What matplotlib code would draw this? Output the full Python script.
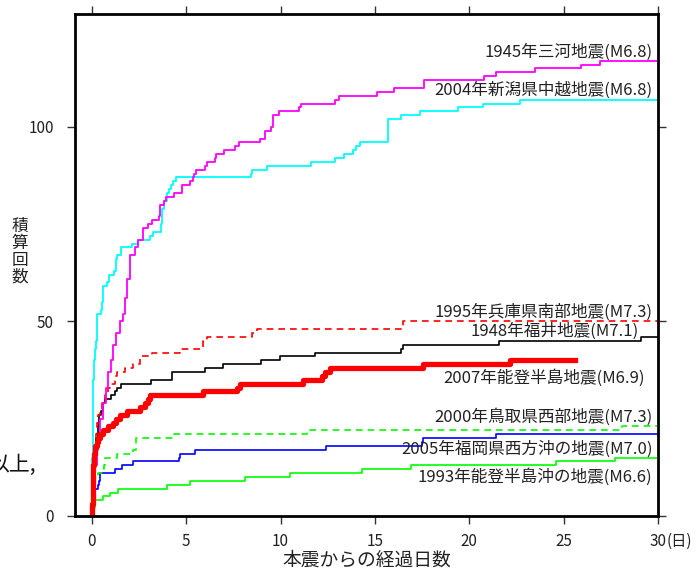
import matplotlib
matplotlib.use("Agg")
import matplotlib.pyplot as plt

plt.rcParams['font.family'] = ['Noto Sans CJK JP', 'DejaVu Sans']

# cumulative counts: (days after mainshock, count reached at that time)
mikawa_t = [0.03, 0.07, 0.12, 0.16, 0.25, 0.33, 0.45, 0.6, 0.75, 0.86, 1.0, 1.13, 1.3, 1.5, 1.66, 1.75,
            1.84, 2.0, 2.28, 2.45, 2.7, 3.0, 3.16, 3.57, 3.6, 3.8, 3.95, 4.35, 4.75, 4.8, 5.2, 5.35,
            5.4, 5.5, 6.0, 6.1, 6.5, 6.6, 7.0, 7.6, 7.8, 8.9, 9.2, 9.5, 9.6, 9.9, 11.0, 11.1, 12.9,
            13.1, 15.1, 16.0, 17.6, 20.8, 21.4, 23.5, 25.9, 26.9]
mikawa_n = [2, 5, 9, 13, 17, 20, 25, 29, 33, 37, 40, 44, 47, 50, 52, 56,
            61, 67, 69, 71, 74, 75, 76, 77, 80, 81, 82, 83, 84, 85, 86, 87,
            88, 89, 90, 91, 92, 93, 94, 95, 96, 97, 99, 100, 103, 104, 105, 106, 107,
            108, 109, 110, 112, 113, 114, 115, 116, 117]

chuetsu_t = [0.01, 0.03, 0.05, 0.07, 0.12, 0.16, 0.21, 0.25, 0.46, 0.51, 0.6, 0.78, 0.92, 1.17, 1.27,
             1.31, 1.52, 2.1, 2.45, 3.07, 3.25, 3.66, 3.7, 3.74, 3.83, 3.96, 4.08, 4.17, 4.3, 4.45,
             8.45, 8.5, 9.3, 11.6, 12.9, 13.35, 13.85, 14.0, 14.2, 15.7, 16.4, 17.4, 19.4, 20.7, 22.7]
chuetsu_n = [5, 15, 25, 35, 40, 43, 45, 52, 53, 55, 59, 60, 62, 63, 66,
             67, 69, 70, 71, 72, 73, 75, 77, 79, 81, 83, 84, 85, 86, 87,
             88, 89, 90, 91, 92, 93, 94, 95, 96, 102, 103, 104, 105, 106, 107]

kobe_t = [0.02, 0.05, 0.1, 0.15, 0.2, 0.25, 0.35, 0.42, 0.55, 0.69, 0.85, 0.95, 1.22, 1.31, 1.75,
          2.19, 2.54, 3.16, 4.66, 5.9, 6.08, 8.46, 8.73, 16.5]
kobe_n = [3, 8, 14, 18, 21, 24, 26, 27, 29, 31, 33, 34, 36, 37, 38,
          39, 41, 42, 43, 45, 46, 47, 48, 50]

fukui_t = [0.03, 0.05, 0.1, 0.15, 0.2, 0.3, 0.4, 0.5, 0.6, 0.7, 1.0, 1.2, 1.35, 1.55, 3.15, 4.25,
           6.0, 6.95, 8.95, 9.95, 11.8, 16.4, 16.5, 21.6, 29.1]
fukui_n = [2, 5, 12, 17, 20, 23, 26, 27, 29, 30, 31, 32, 33, 34, 35, 37,
           38, 39, 40, 41, 42, 43, 44, 45, 46]

noto07_t = [0.02, 0.04, 0.08, 0.12, 0.16, 0.25, 0.33, 0.42, 0.6, 0.86, 1.13, 1.3, 1.48, 1.84, 2.54,
            2.81, 2.98, 3.07, 5.9, 7.67, 7.84, 11.2, 12.2, 12.35, 12.6, 17.55, 22.15]
noto07_n = [3, 8, 13, 16, 18, 19, 20, 21, 22, 23, 24, 25, 26, 27, 28,
            29, 30, 31, 32, 33, 34, 35, 36, 37, 38, 39, 40]
noto07_end = 25.6

tottori_t = [0.02, 0.05, 0.1, 0.16, 0.3, 0.6, 0.65, 0.69, 1.31, 2.19, 2.33, 4.36, 11.4, 28.1]
tottori_n = [3, 6, 8, 10, 11, 12, 13, 15, 16, 17, 20, 21, 22, 23]

fukuoka_t = [0.02, 0.08, 0.12, 0.16, 0.3, 0.38, 0.42, 1.22, 1.57, 2.19, 4.6, 4.66, 5.46, 12.4,
             17.5, 17.56, 21.4]
fukuoka_n = [2, 5, 6, 7, 8, 9, 11, 12, 13, 14, 15, 16, 17, 18, 19, 20, 21]

notooki_t = [0.02, 0.08, 0.16, 0.6, 0.95, 1.4, 3.96, 5.2, 8.1, 10.5, 14.3, 16.9, 24.6, 27.7]
notooki_n = [1, 2, 4, 5, 6, 7, 8, 9, 10, 11, 12, 13, 14, 15]

labels = ['1945年三河地震(M6.8)', '2004年新潟県中越地震(M6.8)', '1995年兵庫県南部地震(M7.3)',
          '1948年福井地震(M7.1)', '2007年能登半島地震(M6.9)', '2000年鳥取県西部地震(M7.3)',
          '2005年福岡県西方沖の地震(M7.0)', '1993年能登半島沖の地震(M6.6)']
label_x = [29.7, 29.7, 29.7, 29.0, 29.3, 29.7, 29.7, 29.7]
label_y = [119.3, 109.5, 52.4, 47.6, 35.5, 25.4, 17.2, 10.0]


def steps(ax, t, n, end, **kw):
    xs = [0] + list(t) + [end]
    ys = [0] + list(n) + [n[-1]]
    ax.step(xs, ys, where='post', **kw)


fig = plt.figure(figsize=(7, 5.72), dpi=100)
ax = fig.add_axes([0.107, 0.098, 0.833, 0.8775])

steps(ax, notooki_t, notooki_n, 30, color='#00ff00', lw=1.2)
steps(ax, fukuoka_t, fukuoka_n, 30, color='#0000ff', lw=1.2)
steps(ax, tottori_t, tottori_n, 30, color='#00ff00', lw=1.2, ls=(0, (4, 3)))
steps(ax, fukui_t, fukui_n, 30, color='black', lw=1.2)
steps(ax, kobe_t, kobe_n, 30, color='#ff0000', lw=1.2, ls=(0, (4, 3)))
steps(ax, chuetsu_t, chuetsu_n, 30, color='#00ffff', lw=1.3)
steps(ax, mikawa_t, mikawa_n, 30, color='#ff00ff', lw=1.3)
steps(ax, noto07_t, noto07_n, noto07_end, color='#ff0000', lw=3.8)

for s, x, y in zip(labels, label_x, label_y):
    ax.text(x, y, s, ha='right', va='center', fontsize=12, color='#222222')

ax.set_xlim(-0.9, 30)
ax.set_ylim(0, 129)
ax.set_xticks([0, 5, 10, 15, 20, 25, 30])
ax.set_yticks([0, 50, 100])
ax.tick_params(direction='out', length=6, width=1, colors='#333333', labelsize=11,
               labelcolor='#222222', top=True, right=True)
ax.tick_params(axis='x', pad=6)
ax.tick_params(axis='y', pad=9)
for sp in ax.spines.values():
    sp.set_linewidth(2)
    sp.set_color('black')

ax.text(30.45, -6.6, '(日)', ha='left', va='center', fontsize=11, color='#222222',
        clip_on=False)
ax.set_xlabel('本震からの経過日数', fontsize=13.5, color='#222222', labelpad=0)
fig.text(0.028, 0.56, '積\n算\n回\n数', ha='center', va='center', fontsize=12,
         color='#222222', linespacing=1.0)
fig.text(0.052, 0.187, '以上,', ha='right', va='center', fontsize=15, color='#111111')

fig.savefig('out.png', dpi=100)
